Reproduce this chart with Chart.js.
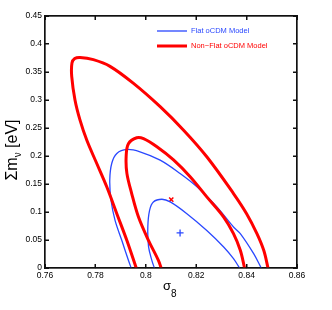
<!DOCTYPE html>
<html>
<head>
<meta charset="utf-8">
<script src="https://cdn.jsdelivr.net/npm/chart.js@4"></script>
</head>
<body style="margin:0">
<canvas id="contours" width="332" height="310"></canvas>
<script>
// axis ticks
const sigmaTicks = [0.76, 0.78, 0.8, 0.82, 0.84, 0.86]
const mnuTicks = [0, 0.05, 0.1, 0.15, 0.2, 0.25, 0.3, 0.35, 0.4, 0.45]

// Non-flat oCDM, outer contour (sigma8, sum m_nu)
const redOuterSigma = [0.7962, 0.7925, 0.7885, 0.7845, 0.7805, 0.7766, 0.7739, 0.7719, 0.7706, 0.7707, 0.7718, 0.7739, 0.7792, 0.7858, 0.795, 0.8057, 0.815, 0.8242, 0.8348, 0.840, 0.8441, 0.8468, 0.8485]
const redOuterMnu = [0, 0.049, 0.097, 0.145, 0.187, 0.228, 0.264, 0.300, 0.342, 0.366, 0.374, 0.376, 0.372, 0.36, 0.33, 0.288, 0.246, 0.1986, 0.133, 0.097, 0.0614, 0.0316, 0]

// Non-flat oCDM, inner contour
const redInnerSigma = [0.8061, 0.805, 0.8011, 0.7971, 0.7944, 0.7925, 0.7922, 0.7931, 0.7964, 0.7991, 0.8044, 0.811, 0.8176, 0.8242, 0.8309, 0.8348, 0.8375, 0.8392]
const redInnerMnu = [0, 0.0137, 0.049, 0.091, 0.133, 0.169, 0.199, 0.222, 0.2326, 0.231, 0.2165, 0.193, 0.163, 0.127, 0.091, 0.0614, 0.0316, 0]

// Flat oCDM, outer contour
const blueOuterSigma = [0.7942, 0.7931, 0.7905, 0.7878, 0.7862, 0.7857, 0.7865, 0.7885, 0.7925, 0.7977, 0.8057, 0.8136, 0.8203, 0.8282, 0.8348, 0.8375, 0.8428, 0.8458]
const blueOuterMnu = [0, 0.0137, 0.049, 0.085, 0.121, 0.157, 0.187, 0.2045, 0.2117, 0.2075, 0.1926, 0.1688, 0.145, 0.109, 0.0733, 0.0614, 0.0256, 0]

// Flat oCDM, inner contour
const blueInnerSigma = [0.8034, 0.8024, 0.8011, 0.8008, 0.8015, 0.803, 0.8064, 0.8097, 0.8163, 0.8242, 0.8309, 0.8348, 0.8372]
const blueInnerMnu = [0, 0.0137, 0.0376, 0.0733, 0.103, 0.118, 0.1228, 0.118, 0.097, 0.067, 0.0376, 0.0167, 0]

// best fit points
const redBest = [0.8101, 0.1222]
const blueBest = [0.8136, 0.0626]

const blue = '#2a48ff'
const red = '#ff0000'
const ink = '#111111'

function toPoints (xs, ys) {
  return xs.map((x, i) => ({ x: x, y: ys[i] }))
}

function contour (label, xs, ys, color, width) {
  return {
    label: label,
    data: toPoints(xs, ys),
    showLine: true,
    borderColor: color,
    borderWidth: width,
    pointRadius: 0,
    tension: 0.35,
    fill: false
  }
}

// one side of the box: border plus short ticks pointing inwards
function boxAxis (axis, position, min, max, tickList, size, showLabels) {
  return {
    type: 'linear',
    axis: axis,
    position: position,
    min: min,
    max: max,
    afterBuildTicks: s => { s.ticks = tickList.map(v => ({ value: v })) },
    afterFit: s => {
      if (axis === 'x') s.height = size
      else s.width = size
    },
    grid: {
      display: true,
      drawOnChartArea: false,
      drawTicks: true,
      tickLength: -4,
      color: ink,
      lineWidth: 1
    },
    border: { display: true, color: ink, width: 1.2 },
    ticks: {
      display: showLabels,
      padding: 7,
      color: '#000',
      maxRotation: 0,
      font: { family: 'Liberation Sans', size: 8.5 },
      callback: v => String(Number(v.toFixed(2)))
    }
  }
}

// axis titles with subscripts
const axisTitles = {
  id: 'axisTitles',
  afterDraw (chart) {
    const c = chart.ctx
    const a = chart.chartArea
    c.save()
    c.fillStyle = '#000'
    c.textBaseline = 'alphabetic'
    const cx = (a.left + a.right) / 2
    c.textAlign = 'right'
    c.font = '13px "Liberation Sans"'
    c.fillText('σ', cx, 290)
    c.textAlign = 'left'
    c.font = '10px "Liberation Sans"'
    c.fillText('8', cx, 297)

    c.translate(16.5, 150)
    c.rotate(-Math.PI / 2)
    c.font = '16px "Liberation Sans"'
    const w1 = c.measureText('Σm').width
    const w3 = c.measureText(' [eV]').width
    c.font = '10px "Liberation Sans"'
    const w2 = c.measureText('ν').width
    const x0 = -(w1 + w2 + w3) / 2
    c.font = '16px "Liberation Sans"'
    c.fillText('Σm', x0, 0)
    c.fillText(' [eV]', x0 + w1 + w2, 0)
    c.font = '10px "Liberation Sans"'
    c.fillText('ν', x0 + w1, 4)
    c.restore()
  }
}

// legend in the top right corner
const cornerLegend = {
  id: 'cornerLegend',
  afterDraw (chart) {
    const c = chart.ctx
    const entries = [chart.data.datasets[2], chart.data.datasets[0]]
    c.save()
    c.font = '7.5px "Liberation Sans"'
    c.textBaseline = 'middle'
    c.textAlign = 'left'
    entries.forEach((ds, i) => {
      const y = 31 + i * 15
      c.fillStyle = ds.borderColor
      c.fillRect(157, y - ds.borderWidth / 2, 30, ds.borderWidth)
      c.fillText(ds.label, 191, y)
    })
    c.restore()
  }
}

// frame drawn once more on top, in case the axis borders get covered
const frameBox = {
  id: 'frameBox',
  afterDraw (chart) {
    const c = chart.ctx
    const a = chart.chartArea
    const xs = chart.scales.x
    const ys = chart.scales.y
    c.save()
    c.fillStyle = ink
    c.fillRect(a.left - 0.6, a.top - 0.6, a.right - a.left + 1.2, 1.2)
    c.fillRect(a.left - 0.6, a.bottom - 0.6, a.right - a.left + 1.2, 1.2)
    c.fillRect(a.left - 0.6, a.top - 0.6, 1.2, a.bottom - a.top + 1.2)
    c.fillRect(a.right - 0.6, a.top - 0.6, 1.2, a.bottom - a.top + 1.2)
    sigmaTicks.forEach(v => {
      const px = Math.round(xs.getPixelForValue(v))
      c.fillRect(px - 0.5, a.bottom - 4, 1, 4)
      c.fillRect(px - 0.5, a.top, 1, 4)
    })
    mnuTicks.forEach(v => {
      const py = Math.round(ys.getPixelForValue(v))
      c.fillRect(a.left, py - 0.5, 4, 1)
      c.fillRect(a.right - 4, py - 0.5, 4, 1)
    })
    c.restore()
  }
}

new Chart(document.getElementById('contours'), {
  type: 'scatter',
  data: {
    datasets: [
      contour('Non−Flat oCDM Model', redOuterSigma, redOuterMnu, red, 3),
      contour('Non−Flat oCDM Model inner', redInnerSigma, redInnerMnu, red, 3),
      contour('Flat oCDM Model', blueOuterSigma, blueOuterMnu, blue, 1.3),
      contour('Flat oCDM Model inner', blueInnerSigma, blueInnerMnu, blue, 1.3),
      {
        label: 'Non-flat best fit',
        data: [{ x: redBest[0], y: redBest[1] }],
        pointStyle: 'crossRot',
        pointRadius: 3,
        borderColor: red,
        borderWidth: 1.5
      },
      {
        label: 'Flat best fit',
        data: [{ x: blueBest[0], y: blueBest[1] }],
        pointStyle: 'cross',
        pointRadius: 3.5,
        borderColor: blue,
        borderWidth: 1.3
      }
    ]
  },
  options: {
    responsive: false,
    animation: false,
    layout: { padding: 0 },
    plugins: {
      legend: { display: false },
      tooltip: { enabled: false }
    },
    scales: {
      x: boxAxis('x', 'bottom', 0.76, 0.86, sigmaTicks, 42, true),
      y: boxAxis('y', 'left', 0, 0.45, mnuTicks, 45, true),
      x2: boxAxis('x', 'top', 0.76, 0.86, sigmaTicks, 16, false),
      y2: boxAxis('y', 'right', 0, 0.45, mnuTicks, 35, false)
    }
  },
  plugins: [axisTitles, cornerLegend, frameBox]
})
</script>
</body>
</html>
